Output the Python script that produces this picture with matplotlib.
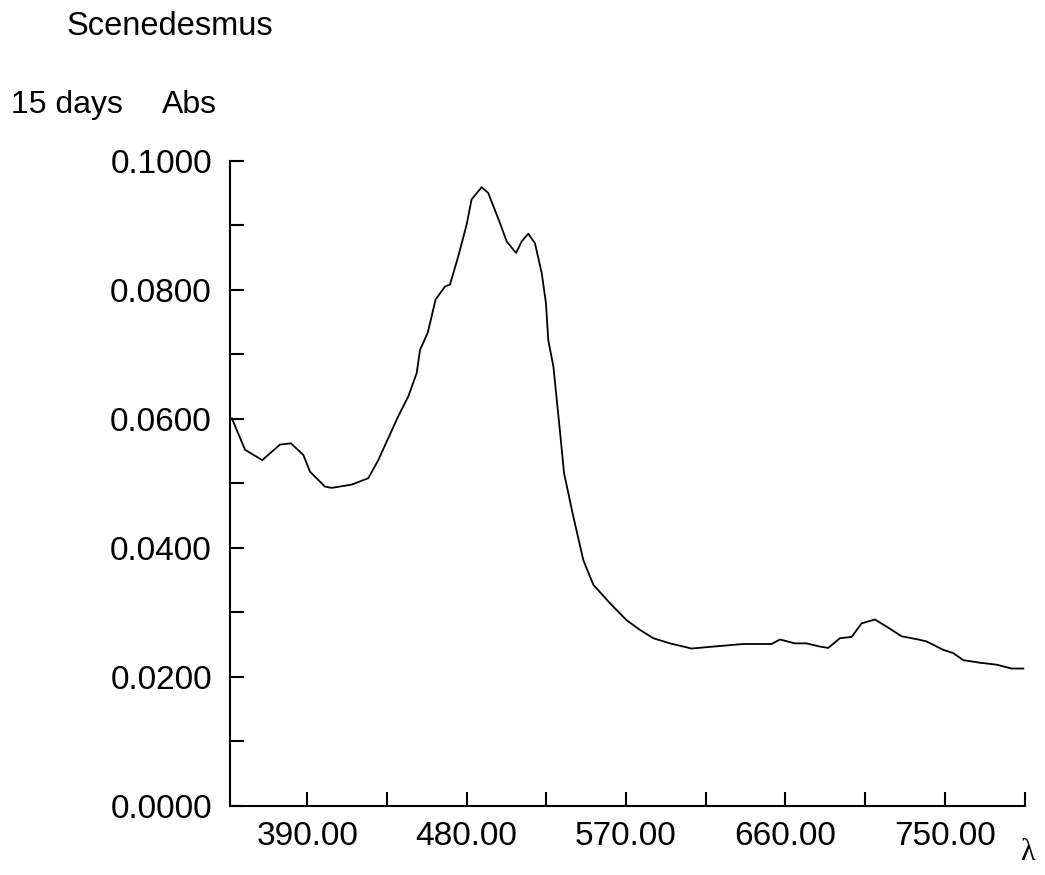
import numpy as np
import matplotlib
matplotlib.use("Agg")
import matplotlib.pyplot as plt
from matplotlib.ticker import MultipleLocator, FixedLocator, FormatStrFormatter

plt.rcParams["font.family"] = ["Liberation Sans", "DejaVu Sans"]

# absorbance spectrum
wavelength = [347.4, 354.9, 364.6, 374.6, 380.8, 387.8, 391.6, 400.0, 403.8, 415.1,
              424.5, 430.1, 441.4, 447.1, 451.8, 453.7, 458.0, 462.5, 467.8, 470.6,
              475.3, 480.0, 482.8, 488.5, 492.2, 498.9, 502.6, 507.9, 511.1, 514.8,
              518.6, 522.4, 524.8, 526.1, 529.0, 532.8, 535.0, 540.2, 545.9, 551.5,
              561.0, 570.3, 577.8, 585.4, 594.8, 607.0, 619.2, 636.0, 652.2, 656.9,
              665.4, 671.9, 679.5, 684.2, 690.8, 697.4, 703.0, 710.5, 717.1, 725.6,
              735.0, 739.7, 749.1, 754.7, 760.4, 769.8, 779.2, 787.7, 794.3]
absorbance = [0.0601, 0.0552, 0.0536, 0.0560, 0.0562, 0.0544, 0.0518, 0.0495, 0.0493, 0.0498,
              0.0508, 0.0536, 0.0604, 0.0635, 0.0671, 0.0707, 0.0733, 0.0785, 0.0805, 0.0808,
              0.0852, 0.0901, 0.0940, 0.0959, 0.0950, 0.0903, 0.0875, 0.0857, 0.0875, 0.0887,
              0.0872, 0.0826, 0.0779, 0.0722, 0.0681, 0.0578, 0.0516, 0.0449, 0.0381, 0.0343,
              0.0314, 0.0288, 0.0273, 0.0260, 0.0252, 0.0244, 0.0247, 0.0251, 0.0251, 0.0258,
              0.0252, 0.0252, 0.0247, 0.0245, 0.0260, 0.0262, 0.0283, 0.0289, 0.0278, 0.0263,
              0.0258, 0.0255, 0.0242, 0.0237, 0.0226, 0.0222, 0.0219, 0.0213, 0.0213]

x_major = [390, 480, 570, 660, 750]
x_minor = [435, 525, 615, 705, 795]

fig = plt.figure(figsize=(10.45, 8.75), dpi=100)
ax = fig.add_axes([0.2201, 0.0789, 0.7608, 0.7374])
ax.plot(wavelength, absorbance, color="black", linewidth=1.3, solid_joinstyle="round")

ax.set_xlim(346.4, 795.3)
ax.set_ylim(0, 0.1)
ax.xaxis.set_major_locator(FixedLocator(x_major))
ax.xaxis.set_minor_locator(FixedLocator(x_minor))
ax.yaxis.set_major_locator(MultipleLocator(0.02))
ax.yaxis.set_minor_locator(MultipleLocator(0.01))
ax.xaxis.set_major_formatter(FormatStrFormatter("%.2f"))
ax.yaxis.set_major_formatter(FormatStrFormatter("%.4f"))

for s in ["top", "right"]:
    ax.spines[s].set_visible(False)
for s in ["left", "bottom"]:
    ax.spines[s].set_linewidth(1.5)

ax.tick_params(which="both", direction="in", length=10, width=1.5, labelsize=24)
ax.tick_params(axis="x", which="major", pad=11)
ax.tick_params(axis="y", which="major", pad=13)
ax.tick_params(which="minor", labelleft=False, labelbottom=False)

fig.text(67 / 1045, 1 - 35 / 875, "Scenedesmus", fontsize=23.5, ha="left", va="baseline")
fig.text(11 / 1045, 1 - 113 / 875, "15 days", fontsize=23, ha="left", va="baseline")
fig.text(162 / 1045, 1 - 113 / 875, "Abs", fontsize=23, ha="left", va="baseline")
fig.text(1028 / 1045, 1 - 852 / 875, "λ", fontsize=22, family="Liberation Serif",
         ha="center", va="center")

fig.savefig("out.png", dpi=100)
